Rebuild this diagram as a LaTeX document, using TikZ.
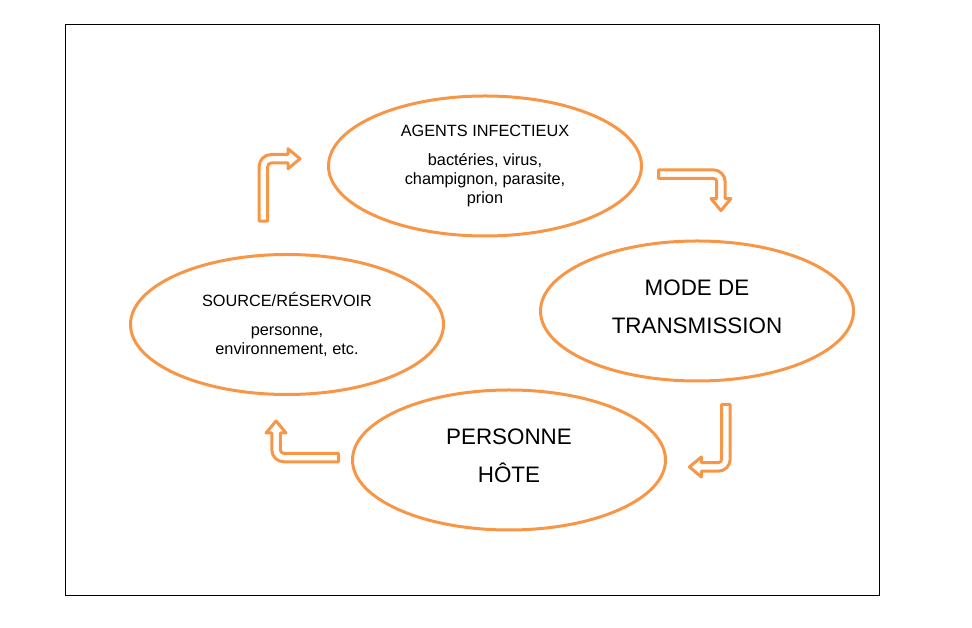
\documentclass[tikz,border=0pt]{standalone}
\usepackage{fontspec}
\setmainfont{Liberation Sans}
\usetikzlibrary{shapes.geometric}
\definecolor{cycleorange}{HTML}{F79646}
\tikzset{every picture/.style={line width=0.75pt}}
\tikzset{
  stage/.style={ellipse, draw=cycleorange, line width=3pt, minimum width=313pt,
    minimum height=140pt, inner sep=0pt, align=center},
  smalltxt/.style={font=\fontsize{16.3}{18.9}\selectfont},
  bigtxt/.style={font=\fontsize{22.4}{37.8}\selectfont, align=center},
  arrowline/.style={draw=cycleorange, line width=3pt, line join=round},
  % bent block arrow: shaft up, then turns right
  pics/bentarrow/.style={code={
    \draw[arrowline] (0,0) -- (8.5,0) -- (8.5,54.7)
      arc[start angle=180, end angle=90, radius=3.5] -- (28.8,58.2)
      -- (28.8,52.45) -- (40.8,62.45) -- (28.8,72.45) -- (28.8,66.7)
      -- (12,66.7) arc[start angle=90, end angle=180, radius=12] -- cycle;
  }}
}

\begin{document}
\begin{tikzpicture}[x=1pt, y=1pt]
    \useasboundingbox (0,0) rectangle (972,628);
    % cadre
    \draw[line width=1pt] (65.3,32) rectangle (879.3,603.7);
    % les quatre maillons
    \node[stage, smalltxt] (agents) at (485,462)
      {AGENTS INFECTIEUX\\[9.6pt] bactéries, virus,\\ champignon, parasite,\\ prion};
    \node[stage] (mode) at (697,317) {};
    \node[bigtxt] (modelabel) at ([yshift=4.5]mode.center) {MODE DE\\ TRANSMISSION};
    \node[stage] (hote) at (509,168) {};
    \node[bigtxt] (hotelabel) at ([yshift=4]hote.center) {PERSONNE\\ HÔTE};
    \node[stage, smalltxt] (source) at (287,303.5)
      {SOURCE/RÉSERVOIR\\[9.6pt] personne,\\ environnement, etc.};
    % flèches
    \pic at (259.2,406.8) {bentarrow};
    \pic[rotate=-90] at (658.5,458.2) {bentarrow};
    \pic[rotate=180] at (730.2,223.5) {bentarrow};
    \pic[rotate=90] at (338.5,166.2) {bentarrow};
\end{tikzpicture}
\end{document}
